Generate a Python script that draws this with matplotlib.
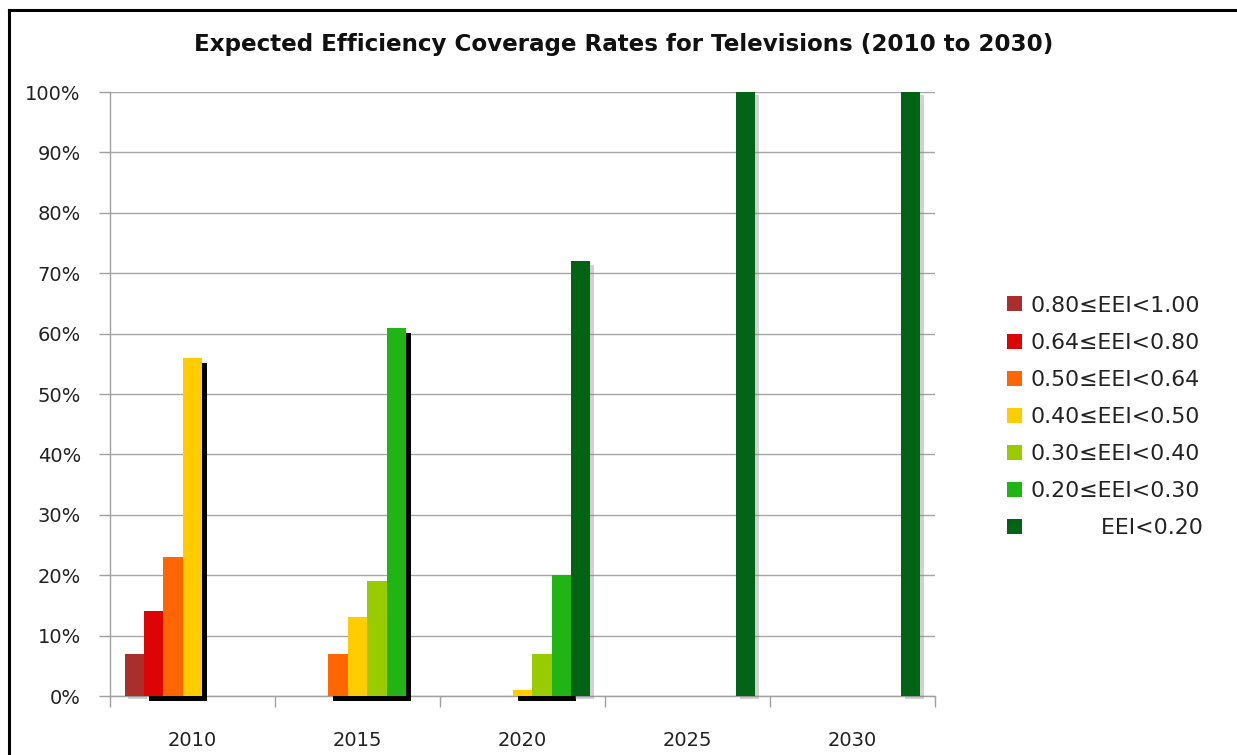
import matplotlib
matplotlib.use("Agg")
import matplotlib.pyplot as plt
import matplotlib.patheffects as pe
from matplotlib.lines import Line2D
import numpy as np

categories = ["2010", "2015", "2020", "2025", "2030"]
series_labels = ["0.80≤EEI<1.00", "0.64≤EEI<0.80", "0.50≤EEI<0.64",
                 "0.40≤EEI<0.50", "0.30≤EEI<0.40", "0.20≤EEI<0.30",
                 "EEI<0.20"]
legend_labels = series_labels[:-1] + ["\u2007\u2007\u2007\u2008\u2007 EEI<0.20"]
s_080_100 = [7, 0, 0, 0, 0]
s_064_080 = [14, 0, 0, 0, 0]
s_050_064 = [23, 7, 0, 0, 0]
s_040_050 = [56, 13, 1, 0, 0]
s_030_040 = [0, 19, 7, 0, 0]
s_020_030 = [0, 61, 20, 0, 0]
s_000_020 = [0, 0, 72, 100, 100]
series_values = [s_080_100, s_064_080, s_050_064, s_040_050,
                 s_030_040, s_020_030, s_000_020]
colors = ["#AA2E2C", "#DC0404", "#FF6600", "#FFCC00", "#99CC00", "#20B515", "#006414"]
hard_shadow = [False, True, True, True, True, True, False]

W, H = 1237, 755
fig = plt.figure(figsize=(W / 100, H / 100), dpi=100)
ax = fig.add_axes([110 / W, 1 - 696 / H, (935 - 110) / W, (696 - 92) / H])

n = len(series_values)
bw = 1 / (n + 1.5)
x = np.arange(len(categories))
for j, (vals, col, lab) in enumerate(zip(series_values, colors, legend_labels)):
    if hard_shadow[j]:
        eff = [pe.SimplePatchShadow(offset=(3.6, -3.6), shadow_rgbFace="black", alpha=1.0), pe.Normal()]
    else:
        eff = [pe.SimplePatchShadow(offset=(2.5, -2.5), shadow_rgbFace="#808080", alpha=0.35), pe.Normal()]
    bars = ax.bar(x + (j - (n - 1) / 2) * bw, vals, width=bw, color=col, label=lab,
                  zorder=3 + j * 0.01, linewidth=0, clip_on=False)
    for b in bars:
        if b.get_height() > 0:
            b.set_path_effects(eff)

ax.set_xlim(-0.5, len(categories) - 0.5)
ax.set_ylim(0, 100)
ax.set_yticks(np.arange(0, 101, 10))
ax.set_yticklabels([f"{v}%" for v in range(0, 101, 10)])
ax.yaxis.grid(True, color="#A6A6A6", linewidth=1.0, zorder=0)
ax.set_axisbelow(True)

ax.set_xticks(np.arange(-0.5, len(categories), 1.0))
ax.set_xticklabels([])
ax.set_xticks(x, minor=True)
ax.set_xticklabels(categories, minor=True)
ax.tick_params(axis="x", which="major", length=8, width=1, color="#A0A0A0", direction="out")
ax.tick_params(axis="x", which="minor", length=0, pad=25, labelsize=14, labelcolor="#222222")
ax.tick_params(axis="y", length=8, width=1, color="#A0A0A0", direction="out", pad=13,
               labelsize=14, labelcolor="#222222")

for s in ["top", "right"]:
    ax.spines[s].set_visible(False)
for s in ["left", "bottom"]:
    ax.spines[s].set_color("#A0A0A0")
    ax.spines[s].set_linewidth(1.0)

fig.text(0.5045, 1 - 44 / H, "Expected Efficiency Coverage Rates for Televisions (2010 to 2030)",
         ha="center", va="center", fontsize=16.6, fontweight="bold", color="#111111")

leg = ax.legend(loc="center left", bbox_to_anchor=(996 / W, 1 - 417 / H),
                bbox_transform=fig.transFigure, frameon=False, fontsize=15.8,
                handlelength=0.68, handleheight=0.68, handletextpad=0.4,
                labelspacing=0.78, borderpad=0)
for t in leg.get_texts():
    t.set_color("#222222")
for h in leg.legend_handles:
    h.set_path_effects([])

fig.add_artist(Line2D([9 / W, 9 / W], [0, 1 - 10 / H], transform=fig.transFigure,
                      color="black", linewidth=2.2, solid_capstyle="projecting"))
fig.add_artist(Line2D([9 / W, 1], [1 - 10 / H, 1 - 10 / H], transform=fig.transFigure,
                      color="black", linewidth=2.2, solid_capstyle="projecting"))

fig.savefig("out.png", dpi=100, facecolor="white")
